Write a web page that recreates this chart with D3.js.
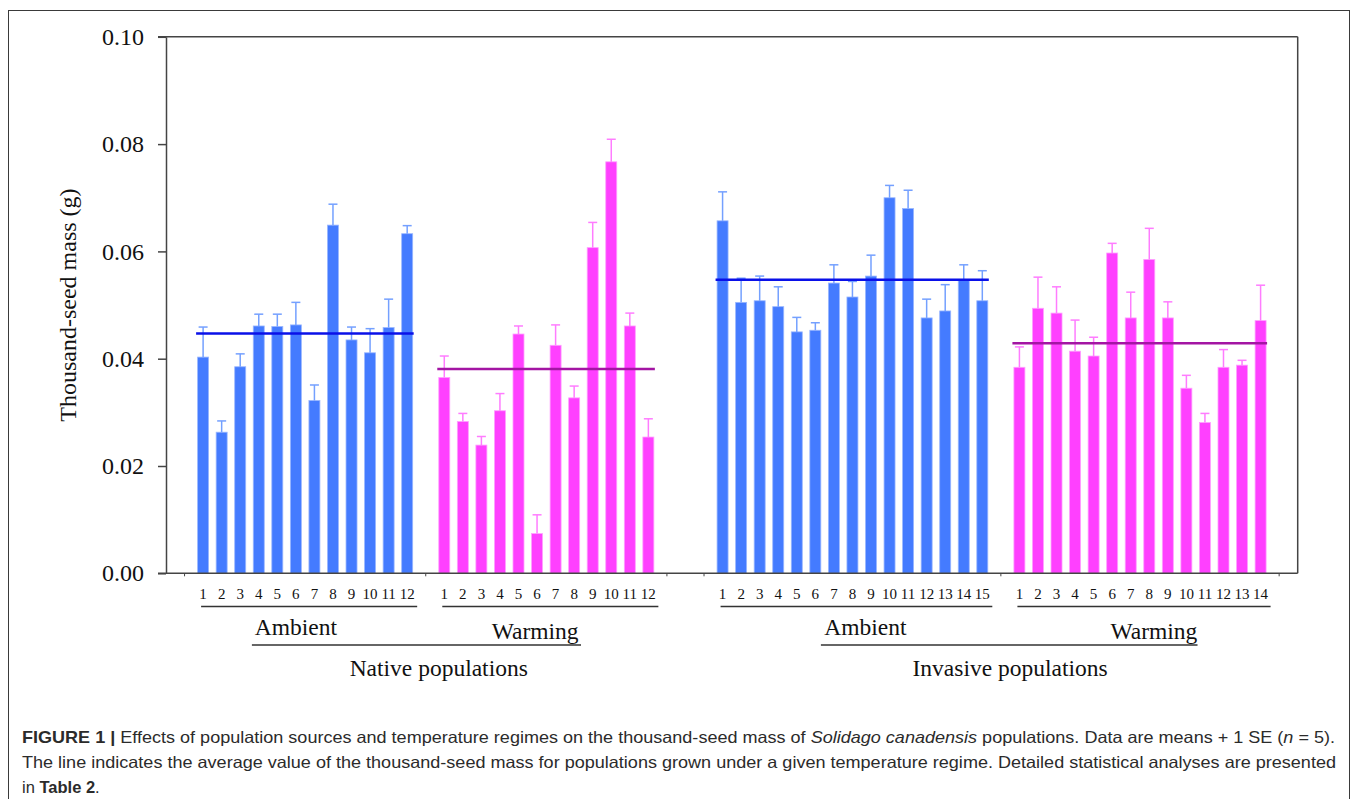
<!DOCTYPE html>
<html>
<head>
<meta charset="utf-8">
<script src="https://cdn.jsdelivr.net/npm/d3@7"></script>
<style>
    body { margin: 0; background: #ffffff; }
    svg { display: block; }
</style>
</head>
<body>
<svg id="board" width="1357" height="799"></svg>
<script>
// Thousand-seed mass (g), means and standard errors per population
let nativeAmbient = [0.0403, 0.0263, 0.0385, 0.0461, 0.0460, 0.0463, 0.0322, 0.0649, 0.0435, 0.0411, 0.0458, 0.0633]
let nativeAmbientSE = [0.0056, 0.0021, 0.0024, 0.0022, 0.0023, 0.0042, 0.0029, 0.0039, 0.0024, 0.0045, 0.0053, 0.0015]
let nativeWarming = [0.0365, 0.0283, 0.0239, 0.0303, 0.0446, 0.0074, 0.0425, 0.0327, 0.0607, 0.0767, 0.0461, 0.0254]
let nativeWarmingSE = [0.0040, 0.0015, 0.0016, 0.0032, 0.0015, 0.0035, 0.0038, 0.0022, 0.0047, 0.0042, 0.0024, 0.0034]
let invasiveAmbient = [0.0657, 0.0505, 0.0508, 0.0497, 0.0450, 0.0453, 0.0541, 0.0515, 0.0554, 0.0700, 0.0680, 0.0476, 0.0489, 0.0547, 0.0508]
let invasiveAmbientSE = [0.0054, 0.0045, 0.0046, 0.0037, 0.0027, 0.0014, 0.0034, 0.0029, 0.0039, 0.0023, 0.0034, 0.0035, 0.0049, 0.0028, 0.0056]
let invasiveWarming = [0.0384, 0.0494, 0.0485, 0.0414, 0.0405, 0.0597, 0.0476, 0.0585, 0.0476, 0.0345, 0.0281, 0.0384, 0.0388, 0.0471]
let invasiveWarmingSE = [0.0038, 0.0058, 0.0049, 0.0058, 0.0035, 0.0018, 0.0048, 0.0058, 0.0030, 0.0024, 0.0017, 0.0033, 0.0009, 0.0066]

// group averages (horizontal lines)
let groupMeans = [0.0447, 0.0381, 0.0547, 0.0429]
let groupNames = ['Ambient', 'Warming', 'Ambient', 'Warming']
let sourceNames = ['Native populations', 'Invasive populations']
let yTicks = [0, 0.02, 0.04, 0.06, 0.08, 0.10]

let board = d3.select('#board')
let serif = '"Liberation Serif", "Times New Roman", serif'

// first bar slot of each group (one empty slot between regimes, three between sources)
let groupStart = [0, 13, 28, 44]
let groups = [
    {values: nativeAmbient, se: nativeAmbientSE, regime: 'ambient'},
    {values: nativeWarming, se: nativeWarmingSE, regime: 'warming'},
    {values: invasiveAmbient, se: invasiveAmbientSE, regime: 'ambient'},
    {values: invasiveWarming, se: invasiveWarmingSE, regime: 'warming'}
]

let colors = {
    ambient: {bar: '#447bff', edge: '#9ab7ff', err: '#74a0ff', mean: '#0a10e8'},
    warming: {bar: '#ff40ff', edge: '#ffa0ff', err: '#ff7cff', mean: '#a315a3'}
}

// slot position -> pixel (centre of slot)
let x = d3.scaleLinear().domain([-2, 59]).range([166, 1297.7])
let y = d3.scaleLinear().domain([0, 0.1]).range([573.3, 36.8])
let barWidth = 11

// outer figure frame
board.append('rect')
    .attr('x', 8.5).attr('y', 10.5)
    .attr('width', 1341).attr('height', 820)
    .attr('fill', 'none')
    .attr('stroke', '#3a3a3a')
    .attr('stroke-width', 1)

// flatten into bars
let bars = []
groups.forEach((g, gi) => {
    g.values.forEach((v, i) => {
        bars.push({slot: groupStart[gi] + i, value: v, se: g.se[i], regime: g.regime, label: i + 1})
    })
})

let plot = board.append('g')

// bars
plot.selectAll('rect.bar')
    .data(bars)
    .enter()
    .append('rect')
    .attr('class', 'bar')
    .attr('x', (d) => x(d.slot) - barWidth / 2)
    .attr('y', (d) => y(d.value))
    .attr('width', barWidth)
    .attr('height', (d) => y(0) - y(d.value))
    .attr('fill', (d) => colors[d.regime].bar)
    .attr('stroke', (d) => colors[d.regime].edge)
    .attr('stroke-width', 0.8)

// error bars (+1 SE)
let err = plot.selectAll('g.err')
    .data(bars)
    .enter()
    .append('g')
    .attr('class', 'err')
    .attr('stroke', (d) => colors[d.regime].err)
    .attr('stroke-width', 1.5)

err.append('line')
    .attr('x1', (d) => x(d.slot)).attr('x2', (d) => x(d.slot))
    .attr('y1', (d) => y(d.value)).attr('y2', (d) => y(d.value + d.se))

err.append('line')
    .attr('x1', (d) => x(d.slot) - 4.5).attr('x2', (d) => x(d.slot) + 4.5)
    .attr('y1', (d) => y(d.value + d.se)).attr('y2', (d) => y(d.value + d.se))

// mean lines
plot.selectAll('line.mean')
    .data(groups)
    .enter()
    .append('line')
    .attr('class', 'mean')
    .attr('x1', (g, gi) => x(groupStart[gi]) - barWidth / 2 - 1.5)
    .attr('x2', (g, gi) => x(groupStart[gi] + g.values.length - 1) + barWidth / 2 + 1)
    .attr('y1', (g, gi) => y(groupMeans[gi]))
    .attr('y2', (g, gi) => y(groupMeans[gi]))
    .attr('stroke', (g) => colors[g.regime].mean)
    .attr('stroke-width', 2.5)

// y axis
let yAxis = d3.axisLeft(y)
    .tickValues(yTicks)
    .tickFormat(d3.format('.2f'))
    .tickSize(8)
    .tickSizeOuter(0)
    .tickPadding(14)

let yG = board.append('g')
    .attr('transform', 'translate(166,0)')
    .call(yAxis)
yG.select('.domain').attr('stroke', '#444').attr('stroke-width', 1.5)
yG.selectAll('.tick line').attr('stroke', '#444').attr('stroke-width', 1.5)
yG.selectAll('.tick text')
    .attr('font-family', serif)
    .attr('font-size', 24)
    .attr('fill', '#111')

// top and right frame of the plot, bottom axis line
board.append('line')
    .attr('x1', 158).attr('x2', x(59))
    .attr('y1', y(0.1)).attr('y2', y(0.1))
    .attr('stroke', '#444').attr('stroke-width', 1.5)
board.append('line')
    .attr('x1', x(59)).attr('x2', x(59))
    .attr('y1', y(0.1)).attr('y2', y(0))
    .attr('stroke', '#444').attr('stroke-width', 1.5)
board.append('line')
    .attr('x1', 158).attr('x2', x(59))
    .attr('y1', y(0)).attr('y2', y(0))
    .attr('stroke', '#444').attr('stroke-width', 1.5)

// small ticks on the bottom axis at the gaps
board.selectAll('line.xtick')
    .data([-1, 12, 25, 27, 43, 58])
    .enter()
    .append('line')
    .attr('x1', (s) => x(s)).attr('x2', (s) => x(s))
    .attr('y1', y(0)).attr('y2', y(0) + 3)
    .attr('stroke', '#444').attr('stroke-width', 1)

// population numbers
board.selectAll('text.num')
    .data(bars)
    .enter()
    .append('text')
    .attr('x', (d) => x(d.slot))
    .attr('y', 599)
    .attr('text-anchor', 'middle')
    .attr('font-family', serif)
    .attr('font-size', 15)
    .attr('fill', '#111')
    .text((d) => d.label)

// underline below each regime's numbers
board.selectAll('line.regime')
    .data(groups)
    .enter()
    .append('line')
    .attr('x1', (g, gi) => x(groupStart[gi]) - 2)
    .attr('x2', (g, gi) => x(groupStart[gi] + g.values.length - 1) + 10)
    .attr('y1', 606.5).attr('y2', 606.5)
    .attr('stroke', '#333').attr('stroke-width', 1.5)

// regime names
let regimeSlots = [5.0, 17.9, 35.7, 51.25]
let regimeBase = [634.5, 638.5, 634.5, 638.5]
board.selectAll('text.regime')
    .data(groupNames)
    .enter()
    .append('text')
    .attr('x', (n, i) => x(regimeSlots[i]))
    .attr('y', (n, i) => regimeBase[i])
    .attr('text-anchor', 'middle')
    .attr('font-family', serif)
    .attr('font-size', 23.5)
    .attr('fill', '#111')
    .text((n) => n)

// underline and name of each population source
let sourceSpan = [[2.63, 20.37], [33.3, 53.6]]
let sourceSlot = [12.7, 43.5]
board.selectAll('line.source')
    .data(sourceSpan)
    .enter()
    .append('line')
    .attr('x1', (s) => x(s[0])).attr('x2', (s) => x(s[1]))
    .attr('y1', 645).attr('y2', 645)
    .attr('stroke', '#333').attr('stroke-width', 1.5)

board.selectAll('text.source')
    .data(sourceNames)
    .enter()
    .append('text')
    .attr('x', (n, i) => x(sourceSlot[i]))
    .attr('y', 676)
    .attr('text-anchor', 'middle')
    .attr('font-family', serif)
    .attr('font-size', 23.5)
    .attr('fill', '#111')
    .text((n) => n)

// y axis title
board.append('text')
    .attr('transform', 'translate(76,' + ((y(0) + y(0.1)) / 2) + ') rotate(-90)')
    .attr('text-anchor', 'middle')
    .attr('font-family', serif)
    .attr('font-size', 24)
    .attr('fill', '#111')
    .text('Thousand-seed mass (g)')

// caption
let sans = '"Liberation Sans", Arial, sans-serif'
let cap1 = board.append('text')
    .attr('x', 22).attr('y', 743)
    .attr('font-family', sans).attr('font-size', 16.5).attr('fill', '#2b2b2b')
    .attr('textLength', 1313).attr('lengthAdjust', 'spacingAndGlyphs')
cap1.append('tspan').attr('font-weight', 'bold').text('FIGURE 1 | ')
cap1.append('tspan').text('Effects of population sources and temperature regimes on the thousand-seed mass of ')
cap1.append('tspan').attr('font-style', 'italic').text('Solidago canadensis')
cap1.append('tspan').text(' populations. Data are means + 1 SE (')
cap1.append('tspan').attr('font-style', 'italic').text('n')
cap1.append('tspan').text(' = 5).')

board.append('text')
    .attr('x', 22).attr('y', 768)
    .attr('font-family', sans).attr('font-size', 16.5).attr('fill', '#2b2b2b')
    .attr('textLength', 1314).attr('lengthAdjust', 'spacingAndGlyphs')
    .text('The line indicates the average value of the thousand-seed mass for populations grown under a given temperature regime. Detailed statistical analyses are presented')

let cap3 = board.append('text')
    .attr('x', 22).attr('y', 793)
    .attr('font-family', sans).attr('font-size', 16.5).attr('fill', '#2b2b2b')
cap3.append('tspan').text('in ')
cap3.append('tspan').attr('font-weight', 'bold').text('Table 2')
cap3.append('tspan').text('.')
</script>
</body>
</html>
